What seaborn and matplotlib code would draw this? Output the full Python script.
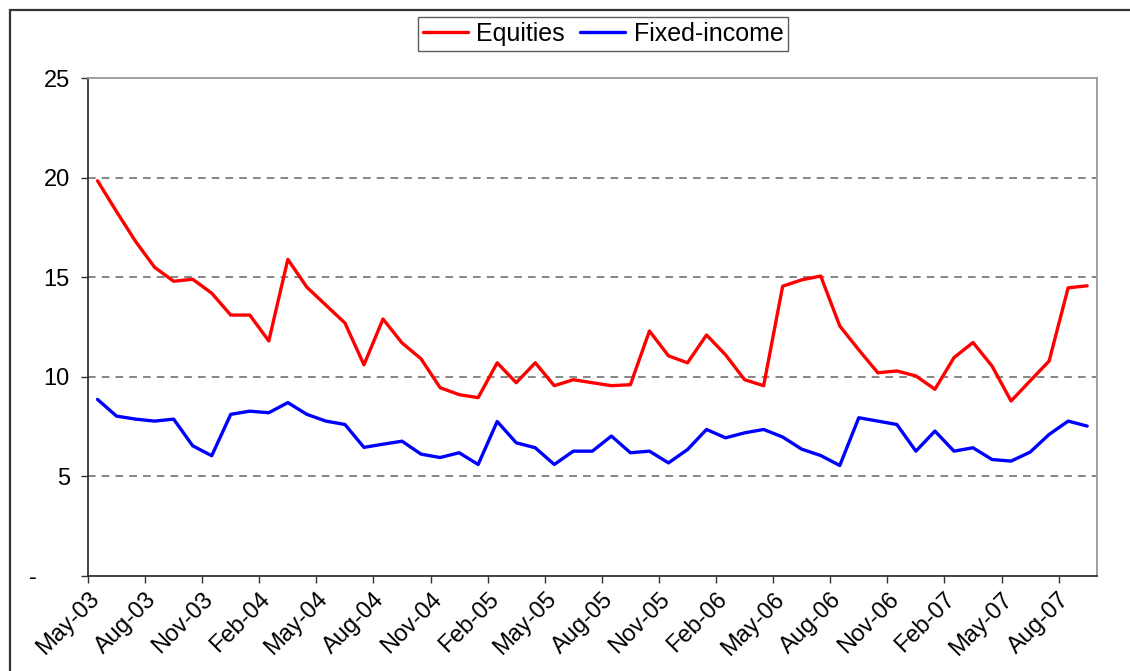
import pandas as pd
import numpy as np
import seaborn as sns
import matplotlib.pyplot as plt
from matplotlib.patches import Rectangle

# monthly data, May-03 .. Sep-07
months = pd.date_range("2003-05-01", "2007-09-01", freq="MS")

equities = [19.85, 18.3, 16.8, 15.5, 14.8, 14.9, 14.2, 13.1, 13.1, 11.8,
            15.9, 14.5, 13.6, 12.7, 10.6, 12.9, 11.7, 10.9, 9.45, 9.1,
            8.95, 10.7, 9.7, 10.7, 9.55, 9.85, 9.7, 9.55, 9.6, 12.3,
            11.05, 10.7, 12.1, 11.1, 9.85, 9.55, 14.55, 14.87, 15.06, 12.55,
            11.35, 10.2, 10.29, 10.04, 9.37, 10.96, 11.72, 10.54, 8.78, 9.79,
            10.79, 14.47, 14.57]

fixed_income = [8.86, 8.02, 7.87, 7.77, 7.87, 6.53, 6.03, 8.11, 8.27, 8.19,
                8.7, 8.11, 7.77, 7.6, 6.45, 6.61, 6.76, 6.11, 5.94, 6.18,
                5.59, 7.75, 6.68, 6.43, 5.59, 6.26, 6.26, 7.02, 6.18, 6.26,
                5.67, 6.34, 7.35, 6.93, 7.18, 7.35, 6.97, 6.36, 6.04, 5.54,
                7.94, 7.77, 7.6, 6.26, 7.27, 6.26, 6.43, 5.84, 5.76, 6.21,
                7.1, 7.77, 7.52]

y_ticks = [0, 5, 10, 15, 20, 25]
y_labels = ["-     ", "5", "10", "15", "20", "25"]

df = pd.DataFrame({"idx": np.arange(len(months)),
                   "Equities": equities,
                   "Fixed-income": fixed_income})
df = df.melt(id_vars="idx", var_name="series", value_name="value")

sns.set_style("white")
plt.rcParams['font.family'] = ['Liberation Sans', 'DejaVu Sans']
plt.rcParams['text.color'] = 'black'
plt.rcParams['xtick.color'] = 'black'
plt.rcParams['ytick.color'] = 'black'

fig = plt.figure(figsize=(11.3, 6.71), dpi=100)
ax = fig.add_axes([88 / 1130, 1 - 575.7 / 671, (1096.7 - 88) / 1130, (575.7 - 78.3) / 671])

sns.lineplot(data=df, x="idx", y="value", hue="series",
             palette={"Equities": "#FF0000", "Fixed-income": "#0000FF"},
             linewidth=2.4, ax=ax)

ax.set_xlim(-0.5, len(months) - 0.5)
ax.set_ylim(0, 25)
ax.set_xlabel("")
ax.set_ylabel("")

# x ticks every 3 months at the month boundaries
tick_pos = np.arange(0, len(months), 3) - 0.5
tick_lab = [m.strftime("%b-%y") for m in months[::3]]
ax.set_xticks(tick_pos)
ax.set_xticklabels(tick_lab, rotation=45, ha="right", va="top",
                   rotation_mode="anchor", fontsize=17)
ax.set_yticks(y_ticks)
ax.set_yticklabels(y_labels, fontsize=17)

ax.tick_params(axis="x", direction="out", length=5, width=1, color="#333333", pad=4, bottom=True)
ax.tick_params(axis="y", direction="out", length=5, width=1, color="#333333", pad=8, left=True)

for y in [5, 10, 15, 20]:
    ax.axhline(y, color="#666666", lw=1.1, ls=(0, (5, 4)), zorder=0)

for s in ["left", "bottom"]:
    ax.spines[s].set_color("#333333")
    ax.spines[s].set_linewidth(1.3)
for s in ["top", "right"]:
    ax.spines[s].set_color("#999999")
    ax.spines[s].set_linewidth(1.3)

leg = ax.legend(loc="center", bbox_to_anchor=(603 / 1130, 1 - 34 / 671),
                bbox_transform=fig.transFigure, ncol=2, fontsize=18,
                frameon=True, fancybox=False, edgecolor="#333333",
                handlelength=1.8, columnspacing=0.6, handletextpad=0.35,
                borderpad=0.2, borderaxespad=0)
leg.get_frame().set_linewidth(1.0)

# outer frame of the chart area
fig.add_artist(Rectangle((10 / 1130, -0.5), 2, 1.5 - 10 / 671,
                         transform=fig.transFigure, fill=False,
                         edgecolor="#333333", lw=1.6))

fig.savefig("out.png", dpi=100)
